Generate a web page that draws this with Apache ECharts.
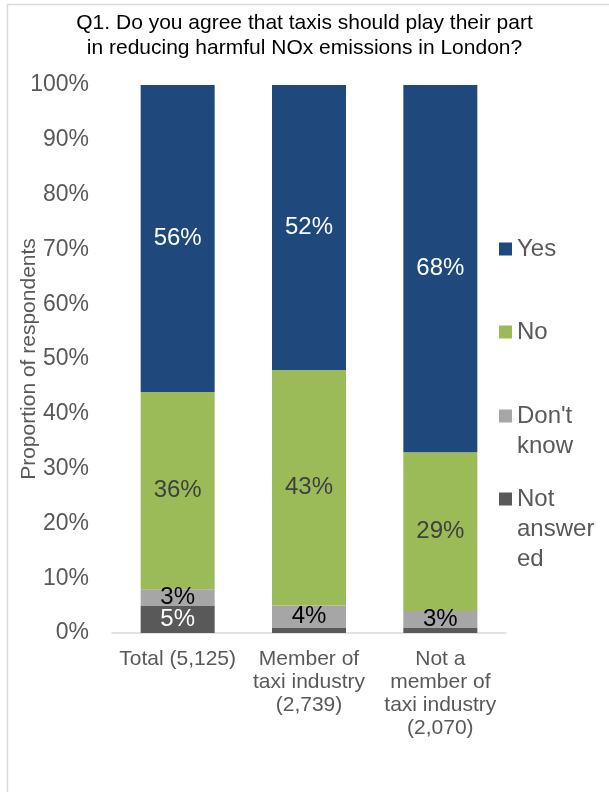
<!DOCTYPE html>
<html>
<head>
<meta charset="utf-8">
<script src="https://cdn.jsdelivr.net/npm/echarts@6/dist/echarts.min.js"></script>
<style>
  html, body { margin: 0; padding: 0; background: #ffffff; }
  #chart { width: 609px; height: 792px; }
</style>
</head>
<body>
<div id="chart"></div>
<script>
// Survey groups along the x axis
const categories = ['Total (5,125)', 'Member of\ntaxi industry\n(2,739)', 'Not a\nmember of\ntaxi industry\n(2,070)'];

// Share of respondents (%) per answer, in the same order as the groups
const notAnswered = [5, 1, 1];
const dontKnow = [3, 4, 3];
const no = [36, 43, 29];
const yes = [56, 52, 68];

// Which "Not answered" segments carry a value label
const notAnsweredLabelled = [true, false, false];

// Answer names and how they wrap in the legend
const answerNames = ['Yes', 'No', "Don't know", 'Not answered'];
const legendText = ['Yes', 'No', "Don't\nknow", 'Not\nanswer\ned'];

// Y axis ticks
const yTicks = [0, 10, 20, 30, 40, 50, 60, 70, 80, 90, 100];

const FONT = '"Liberation Sans", Arial, sans-serif';
const colors = {
  'Yes': '#1F497D',
  'No': '#9BBB59',
  "Don't know": '#A6A6A6',
  'Not answered': '#595959'
};
const labelColors = {
  'Yes': '#ffffff',
  'No': '#404040',
  "Don't know": '#000000',
  'Not answered': '#ffffff'
};

function barSeries(name, values, shown) {
  return {
    name: name,
    type: 'bar',
    stack: 'all',
    barWidth: 74,
    itemStyle: { color: colors[name] },
    label: {
      show: true,
      position: 'inside',
      formatter: '{c}%',
      fontFamily: FONT,
      fontSize: 24,
      color: labelColors[name]
    },
    data: values.map((v, i) => ({
      value: v,
      label: { show: shown ? shown[i] : true }
    }))
  };
}

// One legend block per answer so each entry sits at its own height.
// Blank leading lines keep the marker level with the first line of text.
const legendCentres = [249, 332, 416, 499];
const legendLine = 30;
const legends = answerNames.map((name, i) => {
  const lines = legendText[i].split('\n').length;
  const padded = '\n'.repeat(lines - 1) + legendText[i];
  return {
    data: [{ name: name, icon: 'rect' }],
    orient: 'vertical',
    left: 499,
    top: legendCentres[i] - (2 * lines - 1) * legendLine / 2,
    padding: 0,
    itemWidth: 13,
    itemHeight: 13,
    selectedMode: false,
    formatter: () => padded,
    textStyle: {
      fontFamily: FONT,
      fontSize: 24,
      lineHeight: legendLine,
      color: '#595959'
    }
  };
});

const chart = echarts.init(document.getElementById('chart'), null, { renderer: 'canvas' });
chart.setOption({
  animation: false,
  backgroundColor: '#ffffff',
  title: {
    text: 'Q1. Do you agree that taxis should play their part\nin reducing harmful NOx emissions in London?',
    left: 'center',
    top: 6,
    textStyle: {
      fontFamily: FONT,
      fontSize: 21,
      fontWeight: 'normal',
      lineHeight: 25,
      color: '#000000'
    }
  },
  graphic: [{
    type: 'rect',
    silent: true,
    shape: { x: 7.5, y: 4.5, width: 700, height: 900 },
    style: { fill: 'none', stroke: '#D9D9D9', lineWidth: 1.5 }
  }],
  legend: legends,
  grid: { left: 112, right: 103, top: 85, bottom: 159 },
  xAxis: {
    type: 'category',
    data: categories,
    axisLine: { lineStyle: { color: '#D9D9D9', width: 1.5 } },
    axisTick: { show: false },
    axisLabel: {
      interval: 0,
      margin: 15,
      fontFamily: FONT,
      fontSize: 21,
      lineHeight: 23,
      color: '#595959'
    }
  },
  yAxis: {
    type: 'value',
    min: yTicks[0],
    max: yTicks[yTicks.length - 1],
    interval: 10,
    name: 'Proportion of respondents',
    nameLocation: 'middle',
    nameGap: 72,
    nameMoveOverlap: false,
    nameTextStyle: { fontFamily: FONT, fontSize: 21, color: '#595959' },
    axisLine: { show: false },
    axisTick: { show: false },
    splitLine: { show: false },
    axisLabel: {
      margin: 23,
      formatter: '{value}%',
      fontFamily: FONT,
      fontSize: 23,
      color: '#595959'
    }
  },
  series: [
    barSeries('Not answered', notAnswered, notAnsweredLabelled),
    barSeries("Don't know", dontKnow),
    barSeries('No', no),
    barSeries('Yes', yes)
  ]
});
</script>
</body>
</html>
